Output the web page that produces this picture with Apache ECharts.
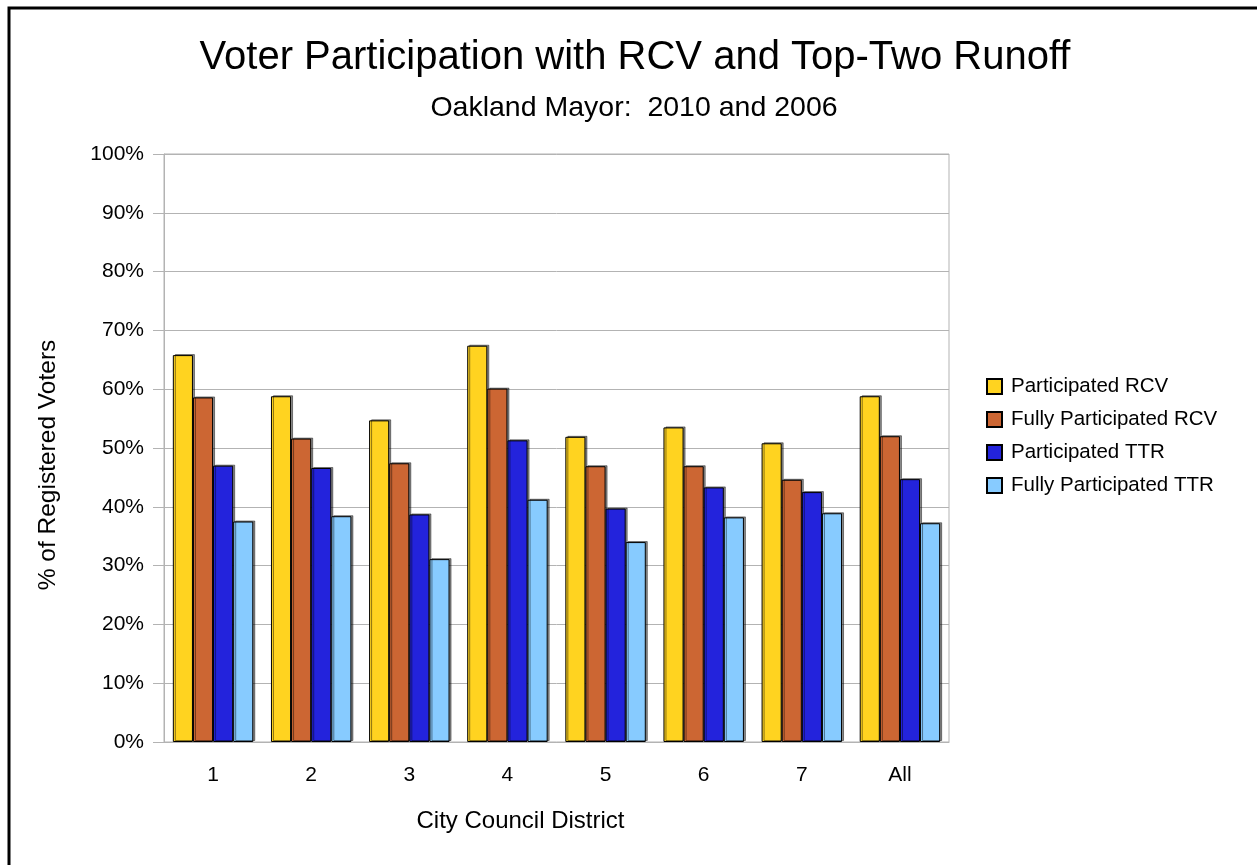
<!DOCTYPE html>
<html lang="en">
<head>
  <meta charset="UTF-8">
  <script src="https://cdn.jsdelivr.net/npm/echarts@6/dist/echarts.min.js"></script>
  <title>Voter Participation with RCV and Top-Two Runoff</title>
  <style>
    html, body { margin: 0; padding: 0; background: #fff; overflow: hidden; }
    #main { width: 1257px; height: 865px; }
  </style>
</head>
<body>
  <div id="main"></div>
  <script>
    // districts on the x axis
    var districts = ['1', '2', '3', '4', '5', '6', '7', 'All'];

    // % of registered voters
    var participatedRCV      = [65.8, 58.8, 54.7, 67.4, 51.9, 53.5, 50.8, 58.8];
    var fullyParticipatedRCV = [58.6, 51.6, 47.4, 60.1, 46.9, 46.9, 44.6, 52.0];
    var participatedTTR      = [47.0, 46.6, 38.7, 51.3, 39.7, 43.3, 42.5, 44.7];
    var fullyParticipatedTTR = [37.5, 38.4, 31.1, 41.2, 34.0, 38.2, 38.9, 37.2];

    var yTicks = [0, 100, 10]; // min, max, step

    var font = "'Liberation Sans', Arial, sans-serif";
    var gridGray = '#b3b3b3';

    function bar(name, data, color) {
      return {
        name: name,
        type: 'bar',
        data: data,
        barGap: '0%',
        barCategoryGap: '18%',
        itemStyle: {
          color: color,
          borderColor: '#000',
          borderWidth: 1,
          shadowColor: 'rgba(0,0,0,0.45)',
          shadowOffsetX: 2,
          shadowOffsetY: -1
        }
      };
    }

    var chart = echarts.init(document.getElementById('main'));
    chart.setOption({
      animation: false,
      textStyle: { fontFamily: font },
      title: [
        {
          text: 'Voter Participation with RCV and Top-Two Runoff',
          left: 630,
          textAlign: 'center',
          top: 33,
          textStyle: { fontSize: 40, fontWeight: 'normal', color: '#000', fontFamily: font }
        },
        {
          text: 'Oakland Mayor:  2010 and 2006',
          left: 629,
          textAlign: 'center',
          top: 89,
          textStyle: { fontSize: 28.5, fontWeight: 'normal', color: '#000', fontFamily: font }
        }
      ],
      graphic: [{
        type: 'rect',
        shape: { x: 9, y: 8, width: 1400, height: 1000 },
        style: { fill: 'none', stroke: '#000', lineWidth: 3 },
        silent: true
      }],
      legend: {
        orient: 'vertical',
        left: 981,
        top: 371,
        icon: 'rect',
        itemWidth: 15,
        itemHeight: 15,
        itemGap: 12,
        textStyle: { fontSize: 20.5, color: '#000', fontFamily: font, lineHeight: 20, padding: [0, 0, 0, 4] }
      },
      grid: {
        left: 164,
        right: 308,
        top: 154,
        bottom: 123,
        show: true,
        borderColor: gridGray,
        borderWidth: 1
      },
      xAxis: {
        type: 'category',
        data: districts,
        name: 'City Council District',
        nameLocation: 'middle',
        nameGap: 67,
        nameTextStyle: { fontSize: 24, color: '#000', padding: [0, 72, 0, 0] },
        axisLine: { lineStyle: { color: gridGray } },
        axisTick: { length: 10, lineStyle: { color: gridGray } },
        axisLabel: { fontSize: 21, color: '#000', margin: 23 }
      },
      yAxis: {
        type: 'value',
        min: yTicks[0],
        max: yTicks[1],
        interval: yTicks[2],
        name: '% of Registered Voters',
        nameLocation: 'middle',
        nameGap: 103,
        nameTextStyle: { fontSize: 24.5, color: '#000', padding: [0, 34, 0, 0] },
        axisLine: { show: true, lineStyle: { color: gridGray } },
        axisTick: { show: true, length: 11, lineStyle: { color: gridGray } },
        axisLabel: { fontSize: 21, color: '#000', margin: 20, formatter: '{value}%' },
        splitLine: { lineStyle: { color: gridGray } }
      },
      series: [
        bar('Participated RCV', participatedRCV, '#ffd320'),
        bar('Fully Participated RCV', fullyParticipatedRCV, '#cc6633'),
        bar('Participated TTR', participatedTTR, '#2323dc'),
        bar('Fully Participated TTR', fullyParticipatedTTR, '#87cbff')
      ]
    });
  </script>
</body>
</html>
